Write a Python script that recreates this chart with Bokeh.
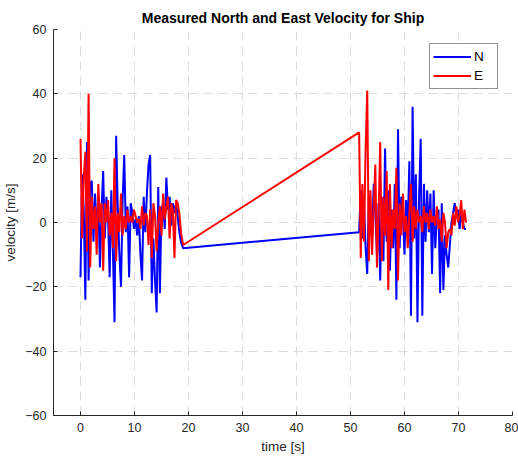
from bokeh.plotting import figure
from bokeh.models import Range1d, FixedTicker, Legend, LegendItem
from bokeh.embed import file_html
from bokeh.resources import INLINE

# ---- data ----
time_s = [
    0.0, 0.3, 0.6, 0.9, 1.2, 1.5, 1.8, 2.1, 2.4, 2.7, 3.0, 3.3, 3.6, 3.9, 4.2, 4.5,
    4.8, 5.1, 5.4, 5.7, 6.0, 6.3, 6.6, 6.9, 7.2, 7.5, 7.8, 8.1, 8.4, 8.7, 9.0, 9.3,
    9.6, 9.9, 10.2, 10.5, 10.8, 11.1, 11.4, 11.7, 12.0, 12.3, 12.6, 12.9, 13.2, 13.5,
    13.8, 14.1, 14.4, 14.7, 15.0, 15.3, 15.6, 15.9, 16.2, 16.5, 16.8, 17.1, 17.4, 17.7,
    18.0, 18.3, 18.6, 19.0,
    51.6, 51.9, 52.2, 52.5, 52.8, 53.1, 53.4, 53.7, 54.0, 54.3, 54.6, 54.9, 55.2, 55.5,
    55.8, 56.1, 56.4, 56.7, 57.0, 57.3, 57.6, 57.9, 58.2, 58.5, 58.8, 59.1, 59.4, 59.7,
    60.0, 60.3, 60.6, 60.9, 61.2, 61.5, 61.8, 62.1, 62.4, 62.7, 63.0, 63.3, 63.6, 63.9,
    64.2, 64.5, 64.8, 65.1, 65.4, 65.7, 66.0, 66.3, 66.6, 66.9, 67.2, 67.5, 67.8, 68.1,
    68.4, 68.7, 69.0, 69.3, 69.6, 69.9, 70.2, 70.5, 70.8, 71.1, 71.4,
]

north = [
    -17, 15, 4, -24, 25, -18, 12, 13, -6, 9, -3, 7, -14, 4, 16, -5,
    8, 2, -17, 10, -9, -31, 27, 5, -10, -20, 7, 21, -3, 5, -17, 6,
    3, -2, 1, -4, 2, -10, -18, 8, -3, 9, 18, 21, -22, -5,
    -18, -28, 11, -22, 4, 6, -2, 14, 4, 8, -1, 6, 3, 6,
    2, -3, -6, -8,
    -3, 10, -5, 6, -8, -16, 8, 4, -4, 12, 3, -10, 6, -18,
    8, -12, 23, -6, 10, -15, 4, -8, 12, -24, 29, -8, 8, 2,
    -10, 7, -2, 19, -29, 36, -5, 15, -31, 8, 26, -29, 12, -6,
    10, -3, 9, -16, 10, -8, 2, 4, -22, 6, -21, -4, -10, -14,
    -7, 0, 3, 6, 2, 4, -2, 3, 0, -2, -2,
]

east = [
    26, -5, 14, 22, -9, 40, -14, 8, -2, 5, -10, 12, 0, 6, -15, 6,
    0, 7, -4, 3, -8, 20, -12, 3, -3, 9, -4, 2, -2, 4, 0, 2,
    0, 4, 2, 0, 1, -2, 5, -1, 3, 2, -7, 4, -11, 6,
    2, -9, 0, 5, -4, 9, 1, 5, 8, -5, 6, 4, -11, 7,
    6, 3, -3, -7,
    28, -11, 12, -6, 23, 41, -12, 10, -10, 5, 18, -14, 2, 25,
    -12, 8, -4, 16, -21, 12, -8, 4, -2, 17, -18, 6, -4, 9,
    -3, 2, -8, 3, 12, -6, 5, -2, 4, 0, 2, -3, 5, 0,
    3, -2, 4, 0, 2, -1, 5, -2, 1, -6, 3, 0, -8, -3,
    -2, -4, 3, -1, 5, 0, 2, 7, -2, 4, 0,
]

x_ticks = [0, 10, 20, 30, 40, 50, 60, 70, 80]
y_ticks = [-60, -40, -20, 0, 20, 40, 60]

TXT = "#262626"
FONT = "Liberation Sans"

p = figure(width=518, height=457, output_backend="svg", toolbar_location=None,
           x_range=Range1d(-5, 80), y_range=Range1d(-60, 60),
           title="Measured North and East Velocity for Ship")
p.min_border_left = 53
p.min_border_right = 6
p.min_border_top = 29
p.min_border_bottom = 42
p.outline_line_color = None
p.background_fill_color = "white"
p.border_fill_color = "white"

p.title.align = "center"
p.title.text_font = FONT
p.title.text_font_size = "14px"
p.title.text_font_style = "bold"
p.title.text_color = "black"
p.title.standoff = 7

for ax, ticks in ((p.xaxis[0], x_ticks), (p.yaxis[0], y_ticks)):
    ax.ticker = FixedTicker(ticks=ticks)
    ax.axis_line_color = TXT
    ax.major_tick_line_color = TXT
    ax.major_tick_in = 4
    ax.major_tick_out = 0
    ax.minor_tick_line_color = None
    ax.major_label_text_font = FONT
    ax.major_label_text_font_size = "12.5px"
    ax.major_label_text_color = TXT
    ax.major_label_standoff = 7
    ax.axis_label_text_font = FONT
    ax.axis_label_text_font_size = "13.5px"
    ax.axis_label_text_font_style = "normal"
    ax.axis_label_text_color = TXT
    ax.axis_label_standoff = 4

p.xaxis.axis_label = "time [s]"
p.yaxis.axis_label = "velocity [m/s]"

for g, ticks in ((p.xgrid[0], x_ticks), (p.ygrid[0], y_ticks)):
    g.ticker = FixedTicker(ticks=ticks)
    g.grid_line_color = "#dcdcdc"
    g.grid_line_dash = "9 6"
    g.grid_line_width = 1

rn = p.line(time_s, north, line_color="#0000ff", line_width=2)
re = p.line(time_s, east, line_color="#ff0000", line_width=2)

legend = Legend(items=[LegendItem(label="N", renderers=[rn]),
                       LegendItem(label="E", renderers=[re])],
                location="top_right", margin=14)
legend.border_line_color = TXT
legend.border_line_width = 1
legend.background_fill_color = "white"
legend.background_fill_alpha = 1
legend.label_text_font = FONT
legend.label_text_font_size = "13.5px"
legend.label_text_color = "black"
legend.glyph_width = 38
legend.glyph_height = 19
legend.label_height = 19
legend.label_standoff = 3
legend.padding = 3
legend.spacing = 0
p.add_layout(legend, "center")

open("out.html", "w").write(file_html(p, INLINE))
